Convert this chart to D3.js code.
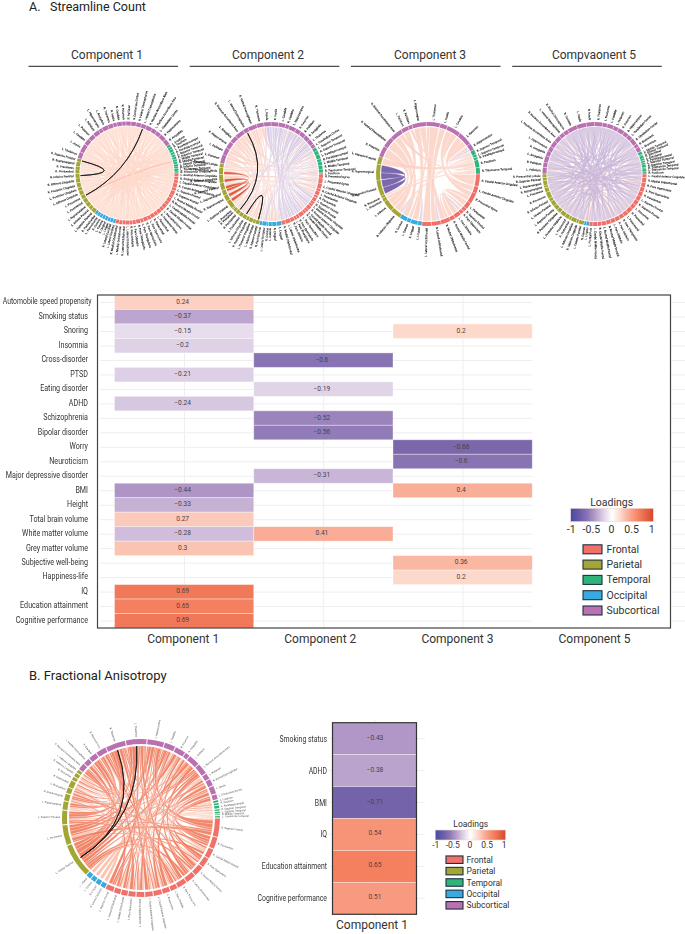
<!DOCTYPE html>
<html><head><meta charset="utf-8">
<script src="https://cdn.jsdelivr.net/npm/d3@7"></script>
<style>html,body{margin:0;padding:0;background:#fff}svg{display:block}text{font-family:Roboto,"Noto Sans",sans-serif}</style>
</head><body><svg id="chart" width="685" height="934" viewBox="0 0 685 934"></svg>
<script>
// ---------- heatmap values ----------
const rowNames=["Automobile speed propensity","Smoking status","Snoring","Insomnia","Cross-disorder","PTSD","Eating disorder","ADHD","Schizophrenia","Bipolar disorder","Worry","Neuroticism","Major depressive disorder","BMI","Height","Total brain volume","White matter volume","Grey matter volume","Subjective well-being","Happiness-life","IQ","Education attainment","Cognitive performance"];
const compNames=["Component 1","Component 2","Component 3","Component 5"];
const comp1Values=[0.24,-0.37,-0.15,-0.2,null,-0.21,null,-0.24,null,null,null,null,null,-0.44,-0.33,0.27,-0.28,0.3,null,null,0.69,0.65,0.69];
const comp2Values=[null,null,null,null,-0.6,null,-0.19,null,-0.52,-0.56,null,null,-0.31,null,null,null,0.41,null,null,null,null,null,null];
const comp3Values=[null,null,0.2,null,null,null,null,null,null,null,-0.66,-0.6,null,0.4,null,null,null,null,0.36,0.2,null,null,null];
const comp5Values=rowNames.map(()=>null);
const faRowNames=["Smoking status","ADHD","BMI","IQ","Education attainment","Cognitive performance"];
const faValues=[-0.43,-0.38,-0.71,0.54,0.65,0.51];
const lobeNames=["Frontal","Parietal","Temporal","Occipital","Subcortical"];
const lobeColors={Frontal:"#f0706a",Parietal:"#a3a535",Temporal:"#2fb57c",Occipital:"#39a9e0",Subcortical:"#b971b2"};
const ringOrder=["Frontal","Occipital","Parietal","Subcortical","Temporal"];
const loadingTicks=[-1,-0.5,0,0.5,1];
const chordTitles=["Component 1","Component 2","Component 3","Compvaonent 5"];

// ---------- chord regions ----------
const c1Frontal="L. Rostral Anterior Cingulate|R. Rostral Anterior Cingulate|L. Caudal Anterior Cingulate|R. Caudal Anterior Cingulate|L. Superior Frontal|R. Superior Frontal|L. Rostral Middle Frontal|R. Rostral Middle Frontal|L. Caudal Middle Frontal|R. Caudal Middle Frontal|L. Precentral Gyrus|R. Precentral Gyrus|L. Paracentral|R. Paracentral|L. Pars Opercularis|R. Pars Opercularis|L. Pars Triangularis|R. Pars Triangularis|L. Pars Orbitalis|R. Pars Orbitalis|L. Lateral Orbitofrontal|R. Lateral Orbitofrontal|L. Medial Orbitofrontal|R. Medial Orbitofrontal".split("|");
const c1Occipital="L. Lateral Occipital|R. Lateral Occipital|L. Lingual|R. Lingual|L. Cuneus|R. Cuneus|L. Pericalcarine|R. Pericalcarine".split("|");
const c1Parietal="L. Superior Parietal|L. Inferior Parietal|L. Supramarginal|L. Postcentral|L. Precuneus|L. Isthmus Cingulate|L. Posterior Cingulate|R. Posterior Cingulate|R. Isthmus Cingulate|R. Inferior Parietal|R. Postcentral|R. Precuneus|R. Supramarginal|R. Superior Parietal".split("|");
const c1Subcortical="L. Thalamus|L. Insula|L. Caudate|L. Putamen|L. Pallidum|L. Hippocampus|L. Amygdala|R. Thalamus|R. Insula|R. Caudate|R. Putamen|R. Pallidum|R. Cerebellum Cortex|R. Ventral Diencephalon|L. Ventral Diencephalon|R. Nucleus Accumbens Area|L. Nucleus Accumbens Area|L. Cerebellum Cortex|R. Hippocampus|R. Amygdala".split("|");
const c1Temporal="L. Fusiform|R. Fusiform|L. Parahippocampal|R. Parahippocampal|L. Superior Temporal|R. Superior Temporal|L. Middle Temporal|R. Middle Temporal|L. Inferior Temporal|R. Inferior Temporal|L. Transverse Temporal|R. Transverse Temporal".split("|");

const c2Frontal="R. Precentral Gyrus|L. Precentral Gyrus|L. Caudal Anterior Cingulate|R. Caudal Anterior Cingulate|L. Paracentral|R. Paracentral|L. Superior Frontal|R. Superior Frontal|L. Rostral Anterior Cingulate|R. Rostral Anterior Cingulate|L. Caudal Middle Frontal|R. Caudal Middle Frontal|L. Pars Opercularis|R. Pars Opercularis|L. Pars Triangularis|R. Pars Orbitalis|L. Lateral Orbitofrontal|R. Medial Orbitofrontal".split("|");
const c2Occipital="L. Lingual|R. Lingual|L. Cuneus|R. Cuneus|L. Lateral Occipital|R. Pericalcarine".split("|");
const c2Parietal="R. Inferior Parietal|L. Inferior Parietal|L. Posterior Cingulate|R. Posterior Cingulate|L. Isthmus Cingulate|L. Postcentral|R. Postcentral|R. Precuneus|L. Precuneus|L. Superior Parietal|R. Supramarginal|L. Supramarginal|R. Superior Parietal|R. Isthmus Cingulate|R. Paracentral Lobule|L. Paracentral Lobule".split("|");
const c2Subcortical="L. Putamen|L. Pallidum|R. Hippocampus|L. Amygdala|R. Nucleus Accumbens Area|L. Ventral Diencephalon|R. Ventral Diencephalon|R. Thalamus|L. Insula|R. Insula|L. Caudate|R. Caudate|L. Hippocampus|R. Putamen|R. Pallidum|R. Amygdala|L. Thalamus|L. Cerebellum Cortex".split("|");
const c2Temporal="L. Superior Temporal|R. Superior Temporal|L. Parahippocampal|R. Parahippocampal|L. Middle Temporal|R. Middle Temporal|R. Transverse Temporal|L. Fusiform".split("|");

const c3Frontal="R. Caudal Anterior Cingulate|L. Caudal Anterior Cingulate|R. Precentral Gyrus|L. Paracentral|R. Superior Frontal|R. Pars Opercularis|L. Pars Orbitalis|R. Rostral Middle Frontal|R. Medial Orbitofrontal|R. Lateral Orbitofrontal|L. Lateral Orbitofrontal".split("|");
const c3Occipital="L. Lingual|R. Lingual|L. Cuneus|R. Cuneus".split("|");
const c3Parietal="R. Isthmus Cingulate|L. Isthmus|L. Precuneus|R. Precuneus|R. Superior Parietal|R. Supramarginal|L. Superior Parietal".split("|");
const c3Subcortical="R. Putamen|R. Ventral Diencephalon|R. Nucleus Accumbens Area|L. Pallidum|R. Pallidum|L. Hippocampus|L. Thalamus|L. Insula|L. Caudate|L. Putamen|R. Hippocampus".split("|");
const c3Temporal="R. Superior Temporal|L. Superior Temporal|R. Parahippocampal|R. Fusiform|R. Transverse Temporal".split("|");

const c4Frontal="L. Caudal Anterior Cingulate|R. Medial Orbitofrontal|R. Pars Opercularis|L. Pars Opercularis|R. Paracentral|L. Superior Frontal|R. Superior Frontal|L. Precentral|R. Precentral|L. Paracentral|R. Pars Triangularis|R. Pars Orbitalis|L. Pars Orbitalis|R. Rostral Middle Frontal|L. Rostral Middle Frontal|R. Caudal Middle Frontal|L. Caudal Middle Frontal|L. Frontal Pole".split("|");
const c4Occipital="L. Lingual|R. Cuneus".split("|");
const c4Parietal="L. Cuneus Parietal|R. Isthmus Cingulate|L. Isthmus Cingulate|R. Postcentral|L. Postcentral|L. Posterior Cingulate|R. Posterior Cingulate|L. Superior Parietal|L. Inferior Parietal|R. Inferior Parietal|R. Precuneus|L. Precuneus|R. Supramarginal|L. Supramarginal|R. Superior Parietal|R. Paracentral Lobule".split("|");
const c4Subcortical="L. Pallidum|R. Pallidum|L. Amygdala|R. Amygdala|L. Hippocampus|L. Nucleus Accumbens Area|R. Nucleus Accumbens Area|L. Ventral Diencephalon|R. Ventral Diencephalon|R. Caudate|L. Insula|R. Insula|R. Thalamus|L. Thalamus|L. Caudate|L. Putamen|R. Putamen|R. Hippocampus|L. Cerebellum Cortex|R. Cerebellum Cortex|R. Brainstem|L. Brainstem".split("|");
const c4Temporal="L. Middle Temporal|L. Inferior Temporal|R. Entorhinal|L. Entorhinal|R. Parahippocampal|L. Superior Temporal|R. Superior Temporal|R. Transverse Temporal|L. Transverse Temporal|R. Fusiform".split("|");

const faFrontal="R. Superior Frontal|R. Paracentral|R. Caudal Middle Frontal|R. Pars Opercularis|R. Rostral Middle Frontal|R. Lateral Orbitofrontal|R. Pars Triangularis|L. Pars Orbitalis|L. Paracentral|L. Caudal Anterior Cingulate|L. Rostral Anterior Cingulate|L. Caudal Middle Frontal|L. Pars Opercularis|L. Medial Orbitofrontal|L. Lateral Orbitofrontal|L. Superior Frontal".split("|");
const faOccipital="R. Lateral Occipital|R. Lingual|L. Cuneus|L. Lingual".split("|");
const faParietal="L. Inferior Parietal|L. Precuneus|L. Superior Parietal|L. Supramarginal|R. Supramarginal|L. Postcentral|R. Postcentral|R. Precuneus|R. Isthmus Cingulate|L. Isthmus Cingulate".split("|");
const faSubcortical="R. Nucleus Accumbens Area|L. Ventral Diencephalon|R. Caudate|R. Hippocampus|R. Thalamus|L. Thalamus|L. Hippocampus|L. Caudate|R. Putamen|R. Amygdala|L. Pallidum|L. Nucleus Accumbens Area|L. Putamen|R. Ventral Diencephalon|L. Insula|L. Cerebellum Cortex".split("|");
const faTemporal="L. Fusiform|R. Fusiform|L. Parahippocampal|R. Superior Temporal|L. Superior Temporal|R. Middle Temporal|L. Transverse Temporal".split("|");

// lobe shares of each ring, in degrees of circle: Frontal, Occipital, Parietal, Subcortical, Temporal
const c1Shares=[103,26,68,129,34];
const c2Shares=[78,25,89,137,31];
const c3Shares=[97,26,77,132,28];
const c4Shares=[96,6,78,154,26];
const faShares=[117,17,84,128.5,13.5];

// ---------- chord links: [region, region, weight] ----------
const c1Links=[[0,34],[0,52],[1,47],[1,70],[2,36],[2,58],[3,49],[3,40],[4,55],[4,33],[5,62],[5,46],[6,38],[6,50],[7,60],[7,44],[8,53],[8,35],[9,65],[9,48],[10,42],[10,57],[11,51],[11,37],[12,63],[12,46],[13,39],[13,54],[14,59],[14,32],[15,47],[15,61],[16,41],[16,49],[17,56],[17,45],[18,64],[18,36],[19,52],[19,43],[20,58],[20,34],[21,50],[21,66],[22,55],[22,68],[23,62],[23,72],[24,48],[24,67],[25,53],[25,70],[26,59],[26,46],[27,50],[27,73],[28,64],[28,75],[29,56],[29,48],[30,61],[30,69],[31,54],[31,77],[32,74],[33,71],[34,66],[35,77],[37,68],[38,76],[39,72],[40,67],[41,75],[42,70],[43,69],[44,73],[45,65],[45,51],[38,60],[41,47],[46,68],[49,74],[57,71],[63,66],[65,76],[60,73],[3,76],[7,69],[11,74],[15,67],[47,64],[52,61],
 [0,44],[1,32],[2,41],[3,35],[4,47],[5,39],[6,64],[7,37],[8,59],[9,43],[10,61],[11,50],[12,34],[13,57],[14,63],[15,40],[16,55],[17,48],[18,52],[19,65],[20,60],[21,46],[22,53],[23,58],[24,71],[25,62],[26,74],[27,51],[28,47],[29,68],[30,57],[31,65],[32,49],[33,56],[35,62],[36,53],[37,64],[39,48],[40,59],[42,54],[44,63],[66,50],[67,55],[68,61],[70,47],[72,58],[75,52],[77,49],[69,5],[71,9],[73,13],[76,17]];
const c1Strong=[[36,72,0.7]];
const c1Black=[[45,41],[36,60]];

const c2Pos=[[40,27,2],[41,25,2],[42,29,2],[43,18,2],[43,31,2],[44,20,2],[45,33,2],[45,22,1],[46,19,2],[46,24,2],[47,35,1],[47,61,2],[40,60,2],[41,63,2],[42,3,1],[44,0,2],[39,59,2],[38,62,2],[37,1,3],[36,4,2],[26,58,2],[28,64,2],[34,6,1],[30,2,2],[24,10,1],[18,52,1],[21,55,1],[0,23,1],[2,35,1],[32,4,1],[38,9,1],[40,33,1],[42,26,1],[44,37,1],[46,29,1],[47,19,1],[39,60,1],[33,63,1]];
const c2Neg=[[48,8,2],[49,12,2],[50,15,2],[51,10,1],[52,14,2],[53,6,2],[54,17,2],[55,9,1],[56,16,2],[57,13,1],[48,28,1],[50,30,1],[58,11,2],[59,5,1],[60,20,1],[61,7,1],[62,16,1],[63,3,1],[64,22,2],[65,1,1],[49,23,1],[51,19,1],[53,34,1],[55,36,1],[7,12,1],[48,2,1],[50,5,1],[52,9,1],[54,12,1],[56,18,1],[57,22,1],[49,16,1],[59,15,1],[62,17,1],[60,13,1]];
const c2Strong=[[37,34,2.5],[36,33,2.5],[38,35,2]];
const c2Black=[[45,30],[24,28]];

const c3Pos=[[22,16,3],[23,15,3],[24,14,2],[25,16,2],[27,8,2],[28,10,3],[29,9,2],[27,12,2],[28,13,1],[30,33,2],[31,34,2],[32,35,1],[30,2,2],[31,0,2],[36,21,3.5],[37,17,1.5],[33,15,1],[35,18,1],[37,0,2],[36,1,2],[26,36,1],[24,37,1.5],[3,6,2],[4,8,1],[2,7,1.5]];
const c3Neg=[[5,9,1],[32,33,0.8],[15,11,1]];
const c3Strong=[[19,20,3.5],[19,20,4]];

const c4Neg=[[36,5],[37,10],[38,3],[39,14],[40,7],[41,12],[42,16],[43,1],[44,9],[45,22,2],[45,13,2],[46,25,2],[46,8,2],[47,28,2],[47,15],[48,30,2],[48,2],[49,33],[49,6],[50,21],[50,11],[51,24],[51,17],[52,27],[52,4],[53,31],[54,20],[54,10],[55,23],[56,26],[57,29],[58,32],[59,34],[60,35],[61,21],[62,24],[63,3],[64,7],[65,28],[66,12],[67,30],[20,0],[22,5],[25,9],[27,13],[29,16],[31,2],[33,11],[35,6],[18,46],[19,50],[36,48],[38,52],[40,55],[42,45],[37,57],[41,53],[60,47],[63,44],[66,39],
 [36,12],[37,3],[38,20],[39,26],[40,30],[41,8],[42,5],[43,34],[44,15],[45,0],[46,32],[47,10],[48,24],[49,17],[50,29],[51,7],[52,22],[53,14],[54,1],[55,33],[56,4],[57,27],[58,9],[60,16],[62,31],[64,18],[66,25],[67,6],[20,11],[23,2],[26,14],[28,8],[30,4],[34,1]];
const c4Pos=[[0,36],[1,24],[3,38],[6,58],[8,28],[10,31],[12,41],[14,26],[16,20],[17,33],[4,61],[5,64],[9,43],[11,35],[15,22],[2,25],[7,30],[13,27],[18,55],[19,42]];

const faStrong=[[20,34,1.5],[20,35,1.5],[20,32,1],[20,37,1],[20,40,1],[20,31,1],[20,2,0.8],[20,5,0.8],[21,34,1],[21,36,1],[21,0,1],[21,38,1],[22,35,1],[22,30,0.8],[22,4,0.6],[23,33,0.8],[24,41,0.6],[25,1,0.6],[0,36,1.2],[0,43,1],[1,44,1],[1,42,0.8],[3,45,1],[4,40,1],[5,39,0.8],[6,35,1],[7,33,0.8],[8,41,1],[9,38,0.8],[10,34,1],[11,37,0.8],[12,32,1],[13,35,0.8],[14,30,0.8],[15,36,1],[15,41,0.6],
 [20,44,0.5],[21,43,0.5],[22,41,0.5],[23,36,0.5],[24,34,0.5],[25,35,0.5],[26,33,0.5],[27,37,0.5],[28,38,0.4],[29,40,0.4],[0,34,0.5],[1,35,0.5],[2,41,0.5],[3,36,0.5],[4,33,0.5],[5,45,0.5],[6,30,0.4],[7,31,0.4],[8,35,0.5],[9,34,0.5],[10,36,0.4],[11,32,0.4],[12,37,0.4],[13,38,0.4],[14,40,0.4],[15,44,0.4],[0,22,0.5],[3,21,0.5],[6,20,0.5],[9,24,0.4],[11,26,0.4],[47,35,0.4],[48,34,0.4],[49,36,0.4]];
const faLight=[[46,21,0.6],[47,22,0.5],[48,23,0.5],[49,24,0.4],[50,25,0.4],[51,26,0.5],[52,27,0.4],[16,34,0.5],[17,38,0.5],[18,40,0.5],[19,42,0.5],[2,28,0.6],[3,29,0.4],[6,23,0.5],[7,26,0.5],[9,31,0.4],[11,44,0.4],[12,43,0.4],[14,46,0.4],[13,48,0.4],[0,50,0.5],[5,52,0.4],[8,33,0.4],[10,39,0.5],[2,37,0.5],[4,42,0.4]];
const faBlack=[[20,34],[20,35]];

const chordSpecs=[
 {cx:127,cy:173,r:51.5,ring:4,gap:1,font:2.9,ink:.06,pad:0.5,white:false,shares:c1Shares,lobes:[c1Frontal,c1Occipital,c1Parietal,c1Subcortical,c1Temporal],tiers:[[c1Links,0.2,.72],[c1Strong,0.45,1]],black:c1Black},
 {cx:271,cy:174,r:52,ring:4,gap:1,font:2.9,ink:.06,pad:0.5,white:true,shares:c2Shares,lobes:[c2Frontal,c2Occipital,c2Parietal,c2Subcortical,c2Temporal],tiers:[[c2Pos,0.24,.85],[c2Neg,-0.27,.8],[c2Strong,0.88,1]],black:c2Black},
 {cx:428,cy:174,r:52,ring:4,gap:1,font:2.9,ink:.06,pad:0.5,white:true,shares:c3Shares,lobes:[c3Frontal,c3Occipital,c3Parietal,c3Subcortical,c3Temporal],tiers:[[c3Pos,0.24,.85],[c3Neg,-0.2,.85],[c3Strong,-0.66,1]],black:[]},
 {cx:594.5,cy:174,r:52,ring:4,gap:1,font:2.9,ink:.06,pad:0.5,white:false,shares:c4Shares,lobes:[c4Frontal,c4Occipital,c4Parietal,c4Subcortical,c4Temporal],tiers:[[c4Pos,0.17,.85],[c4Neg,-0.3,.7]],black:[]},
 {cx:141,cy:818,r:79,ring:5,gap:2,font:2.6,ink:0,pad:0.7,white:true,shares:faShares,lobes:[faFrontal,faOccipital,faParietal,faSubcortical,faTemporal],tiers:[[faLight,0.36,.85],[faStrong,0.72,.88]],black:faBlack}
];

// ---------- colour ----------
const loadingColor=d3.scaleLinear()
 .domain([-1,-0.66,-0.43,-0.2,0,0.2,0.4,0.65,1])
 .range(["#4a4aa0","#7b67ac","#b097c7","#dfd2e6","#ffffff","#fdd9cc","#f9ae98","#f5805f","#d5472c"]);

const svg=d3.select("#chart");
const deg=Math.PI/180;

// ---------- chord drawing ----------
function drawChord(spec){
 const g=svg.append("g").attr("transform",`translate(${spec.cx},${spec.cy})`);
 const regions=[];
 spec.lobes.forEach((names,li)=>names.forEach(name=>regions.push({name,lobe:ringOrder[li],sum:0.3,ends:[]})));
 const N=regions.length;
 const links=[];
 spec.tiers.forEach(([list,loading,opacity])=>list.forEach(l=>{
  const w=l[2]===undefined?1:l[2];
  const link={a:l[0],b:l[1],w,loading,opacity};
  links.push(link);
  regions[l[0]].sum+=w;regions[l[1]].sum+=w;
  regions[l[0]].ends.push({link,key:"sa",other:l[1]});
  regions[l[1]].ends.push({link,key:"ta",other:l[0]});
 }));
 let cursor=Math.PI/2;
 ringOrder.forEach((lobe,li)=>{
  const members=regions.filter(r=>r.lobe===lobe);
  const total=d3.sum(members,r=>r.sum);
  const span=spec.shares[li]*deg;
  const angle=d3.scaleLinear().domain([0,total]).range([cursor,cursor+span]);
  let acc=0;
  members.forEach(r=>{
   r.start=angle(acc);r.end=angle(acc+r.sum);
   const i=regions.indexOf(r);
   r.ends.sort((p,q)=>((q.other-i+N)%N)-((p.other-i+N)%N));
   let pos=acc+0.15;
   r.ends.forEach(e=>{
    e.link[e.key]={startAngle:angle(pos),endAngle:angle(pos+e.link.w)};
    pos+=e.link.w;
   });
   acc+=r.sum;
  });
  cursor+=span;
 });
 const rIn=spec.r-spec.ring-spec.gap;
 const ribbon=d3.ribbon().radius(rIn);
 g.append("g").selectAll("path").data(links).join("path")
  .attr("d",d=>ribbon({source:d.sa,target:d.ta}))
  .attr("fill",d=>loadingColor(d.loading))
  .attr("fill-opacity",d=>d.opacity)
  .attr("stroke",d=>spec.white?"#fff":loadingColor(d.loading))
  .attr("stroke-opacity",spec.white?1:.6)
  .attr("stroke-width",spec.white?0.22:0.35);
 const mid=r=>(r.start+r.end)/2;
 g.append("g").selectAll("path").data(spec.black).join("path")
  .attr("d",d=>{const s=mid(regions[d[0]]),t=mid(regions[d[1]]);
   return ribbon({source:{startAngle:s,endAngle:s},target:{startAngle:t,endAngle:t}});})
  .attr("fill","none").attr("stroke","#111").attr("stroke-width",0.8);
 const arc=d3.arc().innerRadius(spec.r-spec.ring).outerRadius(spec.r);
 const pad=spec.pad*deg/2;
 g.append("g").selectAll("path").data(regions).join("path")
  .attr("d",r=>arc({startAngle:r.start+pad,endAngle:r.end-pad}))
  .attr("fill",r=>lobeColors[r.lobe]);
 const isLeft=r=>(mid(r)%(2*Math.PI))>Math.PI;
 g.append("g").style("filter","grayscale(1)").selectAll("text").data(regions).join("text")
  .attr("font-size",spec.font).attr("font-weight",spec.ink?500:400).attr("fill",spec.ink?"#111":"#444")
  .attr("stroke",spec.ink?"#111":"none").attr("stroke-width",spec.ink)
  .attr("dominant-baseline","central")
  .attr("text-anchor",r=>isLeft(r)?"end":"start")
  .attr("transform",r=>`rotate(${mid(r)/deg-90}) translate(${spec.r+2},0)`+(isLeft(r)?" rotate(180)":""))
  .text(r=>r.name);
}
chordSpecs.forEach(drawChord);

// ---------- section headers ----------
svg.append("text").attr("x",29).attr("y",10.5).attr("font-size",12.5).attr("fill","#222").text("A.");
svg.append("text").attr("x",50).attr("y",10.5).attr("font-size",12.5).attr("fill","#222").text("Streamline Count");
svg.append("text").attr("x",29).attr("y",680).attr("font-size",13).attr("fill","#222").text("B. Fractional Anisotropy");
const titleX=d3.scalePoint().domain(chordTitles).range([107,594]);
const titleRule=d3.scalePoint().domain(chordTitles).range([103.3,587]);
chordTitles.forEach((t,i)=>{
 svg.append("text").attr("x",titleX(t)+[0,-1.3,-1.6,0][i]).attr("y",59).attr("text-anchor","middle")
   .attr("font-size",12).attr("fill","#333").text(t);
 svg.append("line").attr("x1",titleRule(t)-74.8).attr("x2",titleRule(t)+74.8).attr("y1",66.3).attr("y2",66.3)
   .attr("stroke","#222").attr("stroke-width",1);
});

// ---------- heatmaps ----------
const fmt=v=>String(v).replace("-","\u2212");
function axisStyle(sel,size){
 sel.select(".domain").remove();
 sel.selectAll(".tick line").remove();
 sel.selectAll("text").attr("font-size",size).attr("fill","#333");
}
// panel A
const yA=d3.scaleBand().domain(rowNames).range([295,628]);
const xA=d3.scaleBand().domain(compNames).range([114.5,671.5]);
const gridA=svg.append("g").attr("stroke","#eeeeee").attr("stroke-width",1);
rowNames.forEach(n=>gridA.append("line").attr("x1",100).attr("x2",685).attr("y1",yA(n)+yA.bandwidth()/2+.3).attr("y2",yA(n)+yA.bandwidth()/2+.3));
compNames.slice(0,3).forEach(c=>gridA.append("line").attr("x1",xA(c)+xA.bandwidth()/2+.3).attr("x2",xA(c)+xA.bandwidth()/2+.3).attr("y1",295).attr("y2",628));
svg.append("rect").attr("x",xA("Component 5")).attr("y",296).attr("width",139).attr("height",331).attr("fill","#fff");
const cellsA=[];
[comp1Values,comp2Values,comp3Values,comp5Values].forEach((vals,ci)=>vals.forEach((v,ri)=>{if(v!==null)cellsA.push({c:compNames[ci],r:rowNames[ri],v});}));
svg.append("g").selectAll("rect").data(cellsA).join("rect")
 .attr("x",d=>xA(d.c)).attr("y",d=>yA(d.r)).attr("width",xA.bandwidth()).attr("height",yA.bandwidth())
 .attr("fill",d=>loadingColor(d.v)).attr("stroke","#fff").attr("stroke-opacity",.45).attr("stroke-width",.8);
svg.append("g").selectAll("text").data(cellsA).join("text")
 .attr("x",d=>xA(d.c)+xA.bandwidth()/2-1.5).attr("y",d=>yA(d.r)+yA.bandwidth()/2-.5)
 .attr("text-anchor","middle").attr("dominant-baseline","central")
 .attr("font-size",6.6).attr("fill","#444").text(d=>fmt(d.v));
svg.append("rect").attr("x",97.5).attr("y",295).attr("width",573).attr("height",333).attr("fill","none").attr("stroke","#444").attr("stroke-width",1.2);
const yAxisA=svg.append("g").attr("transform","translate(88,-1)").style("filter","grayscale(1)").call(d3.axisLeft(yA).tickSize(0).tickPadding(0));
axisStyle(yAxisA,9.8);
yAxisA.selectAll("text").attr("transform",d=>d===rowNames[0]?"translate(3.5,0) scale(.7,1)":"scale(.73,1)");
const xLabelA=d3.scalePoint().domain(compNames).range([182.7,594]);
const xAxisA=svg.append("g").attr("transform","translate(0,631)").call(d3.axisBottom(xLabelA).tickSize(0).tickPadding(3));
axisStyle(xAxisA,12);

// panel B
const yB=d3.scaleBand().domain(faRowNames).range([722.7,914.3]);
const xB=d3.scaleBand().domain(["Component 1"]).range([332.5,416.5]);
const gridB=svg.append("g").attr("stroke","#eeeeee").attr("stroke-width",1);
faRowNames.forEach(n=>gridB.append("line").attr("x1",329).attr("x2",425).attr("y1",yB(n)+yB.bandwidth()/2).attr("y2",yB(n)+yB.bandwidth()/2));
gridB.append("line").attr("x1",374.7).attr("x2",374.7).attr("y1",720).attr("y2",918);
svg.append("g").selectAll("rect").data(faRowNames).join("rect")
 .attr("x",xB("Component 1")).attr("y",d=>yB(d)).attr("width",xB.bandwidth()).attr("height",yB.bandwidth())
 .attr("fill",(d,i)=>loadingColor(faValues[i])).attr("stroke","#fff").attr("stroke-opacity",.45).attr("stroke-width",.8);
svg.append("g").selectAll("text").data(faRowNames).join("text")
 .attr("x",375).attr("y",d=>yB(d)+yB.bandwidth()/2-1)
 .attr("text-anchor","middle").attr("dominant-baseline","central")
 .attr("font-size",6.6).attr("fill","#444").text((d,i)=>fmt(faValues[i]));
svg.append("rect").attr("x",332.5).attr("y",722.7).attr("width",84).attr("height",191.6).attr("fill","none").attr("stroke","#333").attr("stroke-width",1.2);
const yAxisB=svg.append("g").attr("transform","translate(327,0)").style("filter","grayscale(1)").call(d3.axisLeft(yB).tickSize(0).tickPadding(0));
axisStyle(yAxisB,9.4);
yAxisB.selectAll("text").attr("transform","scale(.73,1)");
const xAxisB=svg.append("g").attr("transform","translate(-2.5,917)").call(d3.axisBottom(xB).tickSize(0).tickPadding(3));
axisStyle(xAxisB,12);

// ---------- legends ----------
function gradient(id){
 const lg=svg.append("defs").append("linearGradient").attr("id",id);
 d3.range(0,1.0001,0.1).forEach(t=>lg.append("stop").attr("offset",t).attr("stop-color",loadingColor(-1+2*t)));
}
gradient("grad");
function legend(o){
 svg.append("text").attr("x",o.titleX).attr("y",o.titleY).attr("text-anchor","middle").attr("font-size",o.fs).attr("fill","#333").text("Loadings");
 svg.append("rect").attr("x",o.x0).attr("y",o.barY).attr("width",o.x1-o.x0).attr("height",o.barH).attr("fill","url(#grad)").attr("stroke","#f2d9d3").attr("stroke-width",.6);
 const s=d3.scaleLinear().domain([-1,1]).range([o.x0,o.x1-2]);
 const ax=svg.append("g").attr("transform",`translate(0,${o.barY+o.barH})`).call(d3.axisBottom(s).tickValues(loadingTicks).tickFormat(String).tickSize(0).tickPadding(o.tp));
 ax.select(".domain").remove();
 ax.selectAll("text").attr("font-size",o.fs).attr("fill","#333");
 const sy=d3.scalePoint().domain(lobeNames).range([o.ly0,o.ly1]);
 lobeNames.forEach(n=>{
  svg.append("rect").attr("x",o.sx).attr("y",sy(n)-o.sh/2).attr("width",o.sw).attr("height",o.sh).attr("fill",lobeColors[n]).attr("stroke","#1e3040").attr("stroke-width",1.1);
  svg.append("text").attr("x",o.sx+o.sw+o.tg).attr("y",sy(n)).attr("dominant-baseline","central").attr("font-size",o.lf).attr("fill","#333").text(n);
 });
}
legend({titleX:611.7,titleY:505.5,fs:10.5,x0:570.7,x1:653.3,barY:508.3,barH:13.4,tp:4,ly0:549.3,ly1:610.5,sx:583,sw:19,sh:9,tg:4.5,lf:10.5});
legend({titleX:470.7,titleY:827,fs:8.5,x0:435.2,x1:505.7,barY:830,barH:10,tp:2,ly0:859.7,ly1:905.3,sx:446,sw:17,sh:7.5,tg:3.5,lf:8.5});
</script></body></html>
